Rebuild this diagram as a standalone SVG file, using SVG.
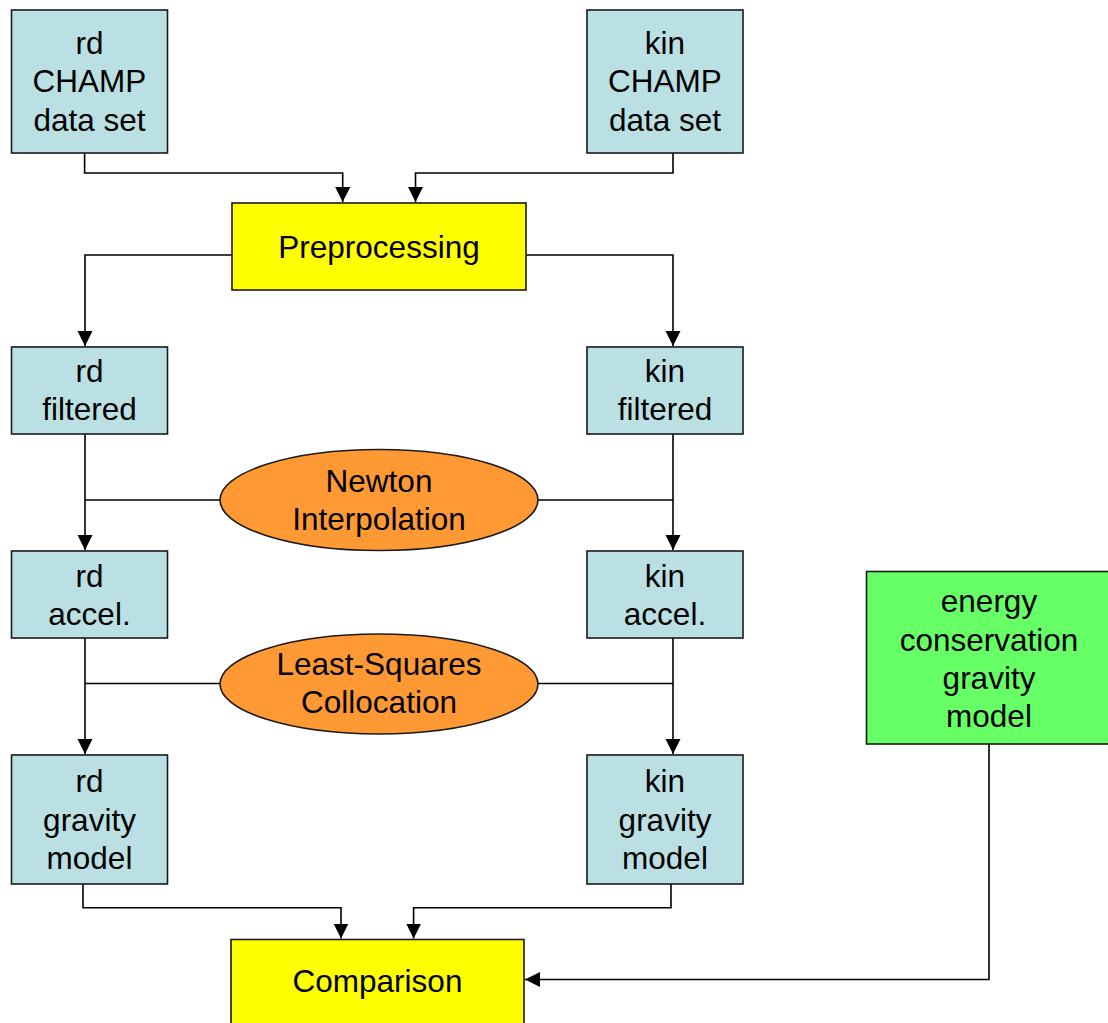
<svg xmlns="http://www.w3.org/2000/svg" width="1108" height="1023" viewBox="0 0 1108 1023">
  <style>
    .box { stroke: #1a1a1a; stroke-width: 1.6; }
    .blue { fill: #BAE0E3; }
    .yellow { fill: #FFFF00; }
    .orange { fill: #FF9933; }
    .green { fill: #66FF66; }
    .lbl { font-family: "Liberation Sans", Arial, sans-serif; font-size: 31.5px; fill: #000; text-anchor: middle; }
    .conn { fill: none; stroke: #000; stroke-width: 1.6; }
  </style>
  <defs>
    <marker id="arr" markerUnits="userSpaceOnUse" markerWidth="16" markerHeight="16" refX="15" refY="7.5" orient="auto">
      <path d="M0,0 L15,7.5 L0,15 z" fill="#000"/>
    </marker>
  </defs>
  <rect width="1108" height="1023" fill="#fff"/>

  <g id="connectors">
    <path class="conn" d="M84.6,153 V173 H342.7 V202" marker-end="url(#arr)"/>
    <path class="conn" d="M673,153 V173 H415.5 V202" marker-end="url(#arr)"/>
    <path class="conn" d="M232,255 H85 V346" marker-end="url(#arr)"/>
    <path class="conn" d="M526,255 H673 V346" marker-end="url(#arr)"/>
    <path class="conn" d="M85,434 V550" marker-end="url(#arr)"/>
    <path class="conn" d="M673,434 V550" marker-end="url(#arr)"/>
    <path class="conn" d="M220,500 H85"/>
    <path class="conn" d="M538,500 H673"/>
    <path class="conn" d="M85,638 V754" marker-end="url(#arr)"/>
    <path class="conn" d="M673,638 V754" marker-end="url(#arr)"/>
    <path class="conn" d="M220,683.5 H85"/>
    <path class="conn" d="M538,683.5 H673"/>
    <path class="conn" d="M83,884 V907.7 H341 V938.5" marker-end="url(#arr)"/>
    <path class="conn" d="M671,884 V907.7 H413.6 V938.5" marker-end="url(#arr)"/>
    <path class="conn" d="M989,744 V979.5 H525" marker-end="url(#arr)"/>
  </g>

  <g id="rd-champ">
    <rect class="box blue" x="11.5" y="10" width="156" height="143"/>
    <text class="lbl" x="89.5" y="53.5">rd</text>
    <text class="lbl" x="89.5" y="92">CHAMP</text>
    <text class="lbl" x="89.5" y="130.5">data set</text>
  </g>
  <g id="kin-champ">
    <rect class="box blue" x="587" y="10" width="156" height="143"/>
    <text class="lbl" x="665" y="53.5">kin</text>
    <text class="lbl" x="665" y="92">CHAMP</text>
    <text class="lbl" x="665" y="130.5">data set</text>
  </g>
  <g id="preprocessing">
    <rect class="box yellow" x="232" y="203" width="294" height="87"/>
    <text class="lbl" x="379" y="258">Preprocessing</text>
  </g>
  <g id="rd-filtered">
    <rect class="box blue" x="11.5" y="347" width="156" height="87"/>
    <text class="lbl" x="89.5" y="381.5">rd</text>
    <text class="lbl" x="89.5" y="420">filtered</text>
  </g>
  <g id="kin-filtered">
    <rect class="box blue" x="587" y="347" width="156" height="87"/>
    <text class="lbl" x="665" y="381.5">kin</text>
    <text class="lbl" x="665" y="420">filtered</text>
  </g>
  <g id="newton">
    <ellipse class="box orange" cx="379" cy="500" rx="159" ry="50.5"/>
    <text class="lbl" x="379" y="492">Newton</text>
    <text class="lbl" x="379" y="530">Interpolation</text>
  </g>
  <g id="rd-accel">
    <rect class="box blue" x="11.5" y="551" width="156" height="87"/>
    <text class="lbl" x="89.5" y="586.5">rd</text>
    <text class="lbl" x="89.5" y="625">accel.</text>
  </g>
  <g id="kin-accel">
    <rect class="box blue" x="587" y="551" width="156" height="87"/>
    <text class="lbl" x="665" y="586.5">kin</text>
    <text class="lbl" x="665" y="625">accel.</text>
  </g>
  <g id="lsc">
    <ellipse class="box orange" cx="379" cy="684" rx="159" ry="50"/>
    <text class="lbl" x="379" y="675">Least-Squares</text>
    <text class="lbl" x="379" y="713">Collocation</text>
  </g>
  <g id="energy">
    <rect class="box green" x="866.5" y="571.5" width="250" height="172.5"/>
    <text class="lbl" x="989" y="612">energy</text>
    <text class="lbl" x="989" y="650.5">conservation</text>
    <text class="lbl" x="989" y="689">gravity</text>
    <text class="lbl" x="989" y="727">model</text>
  </g>
  <g id="rd-gravity">
    <rect class="box blue" x="11.5" y="755" width="156" height="129"/>
    <text class="lbl" x="89.5" y="791.5">rd</text>
    <text class="lbl" x="89.5" y="830.5">gravity</text>
    <text class="lbl" x="89.5" y="868.5">model</text>
  </g>
  <g id="kin-gravity">
    <rect class="box blue" x="587" y="755" width="156" height="129"/>
    <text class="lbl" x="665" y="791.5">kin</text>
    <text class="lbl" x="665" y="830.5">gravity</text>
    <text class="lbl" x="665" y="868.5">model</text>
  </g>
  <g id="comparison">
    <rect class="box yellow" x="231" y="939.5" width="293" height="100"/>
    <text class="lbl" x="377.5" y="992">Comparison</text>
  </g>
</svg>
